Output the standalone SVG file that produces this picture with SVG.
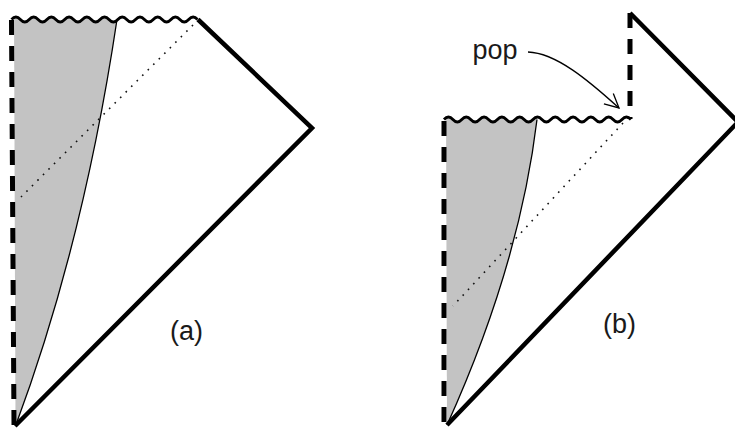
<svg xmlns="http://www.w3.org/2000/svg" width="735" height="430" viewBox="0 0 735 430">
<style>
.thick{fill:none;stroke:#000;stroke-width:4.5;stroke-linejoin:miter;stroke-miterlimit:20}
.dash{fill:none;stroke:#000;stroke-width:5;stroke-dasharray:15 11}
.wave{fill:none;stroke:#000;stroke-width:2.8;stroke-linejoin:round}
.grey{fill:#c3c3c3;stroke:none}
.curve{fill:none;stroke:#000;stroke-width:1.3}
.dot{fill:none;stroke:#111;stroke-width:1.6;stroke-dasharray:1.6 6.2}
.lbl{font-family:"Liberation Sans",Arial,sans-serif;font-size:27px;fill:#1a1a1a}
.arrow{fill:none;stroke:#000;stroke-width:1.3}
</style>
<defs>
<clipPath id="clipA"><path d="M11.5,19.5 q4.43,-5 8.86,0 t8.86,0 t8.86,0 t8.86,0 t8.86,0 t8.86,0 t8.86,0 t8.86,0 t8.86,0 t8.86,0 t8.86,0 t8.86,0 t8.86,0 t8.86,0 t8.86,0 t8.86,0 t8.86,0 t8.86,0 t8.86,0 t8.86,0 t8.86,0 L198,430 L0,430 Z"/></clipPath>
<clipPath id="clipB"><path d="M444,119.5 q4.45,-5 8.9,0 t8.9,0 t8.9,0 t8.9,0 t8.9,0 t8.9,0 t8.9,0 t8.9,0 t8.9,0 t8.9,0 t8.9,0 t8.9,0 t8.9,0 t8.9,0 t8.9,0 t8.9,0 t8.9,0 t8.9,0 t8.9,0 t8.9,0 t8.9,0 L631,430 L430,430 Z"/></clipPath>
<marker id="openArrow" markerUnits="userSpaceOnUse" markerWidth="20" markerHeight="20" viewBox="-16 -10 20 20" refX="0" refY="0" orient="auto">
<path d="M-14,-7 L0,0 L-14,7" fill="none" stroke="#000" stroke-width="1.3"/>
</marker>
</defs>

<g id="panel-a">
<path class="grey" clip-path="url(#clipA)" d="M14,5 L117,5 L117,19.5 Q83.4,244 15.5,426 Z"/>
<path class="curve" d="M117,19.5 Q83.4,244 15.5,426"/>
<path class="dot" d="M193,25 L21,197"/>
<path class="wave" d="M11.5,19.5 q4.43,-5 8.86,0 t8.86,0 t8.86,0 t8.86,0 t8.86,0 t8.86,0 t8.86,0 t8.86,0 t8.86,0 t8.86,0 t8.86,0 t8.86,0 t8.86,0 t8.86,0 t8.86,0 t8.86,0 t8.86,0 t8.86,0 t8.86,0 t8.86,0 t8.86,0"/>
<path class="dash" d="M11.5,20 L14,426"/>
<polyline class="thick" points="198,19.5 312,128 15,426"/>
<text class="lbl" x="170" y="340">(a)</text>
</g>

<g id="panel-b">
<path class="grey" clip-path="url(#clipB)" d="M446,105 L537.5,105 L537,119.5 Q519.5,265 447,425 Z"/>
<path class="curve" d="M537,119.5 Q519.5,265 447,425"/>
<path class="dot" d="M623,123 L453,306"/>
<path class="wave" d="M444,119.5 q4.45,-5 8.9,0 t8.9,0 t8.9,0 t8.9,0 t8.9,0 t8.9,0 t8.9,0 t8.9,0 t8.9,0 t8.9,0 t8.9,0 t8.9,0 t8.9,0 t8.9,0 t8.9,0 t8.9,0 t8.9,0 t8.9,0 t8.9,0 t8.9,0 t8.9,0"/>
<path class="dash" d="M444,121 L444,426"/>
<path class="dash" d="M630,13 L630,119"/>
<polyline class="thick" points="630,13 738,122 447,425"/>
<text class="lbl" x="603" y="333">(b)</text>
<text class="lbl" x="472.5" y="59">pop</text>
</g>

<g id="connectors">
<path class="arrow" d="M528,52 C556,53 588,80 619,108" marker-end="url(#openArrow)"/>
</g>
</svg>
